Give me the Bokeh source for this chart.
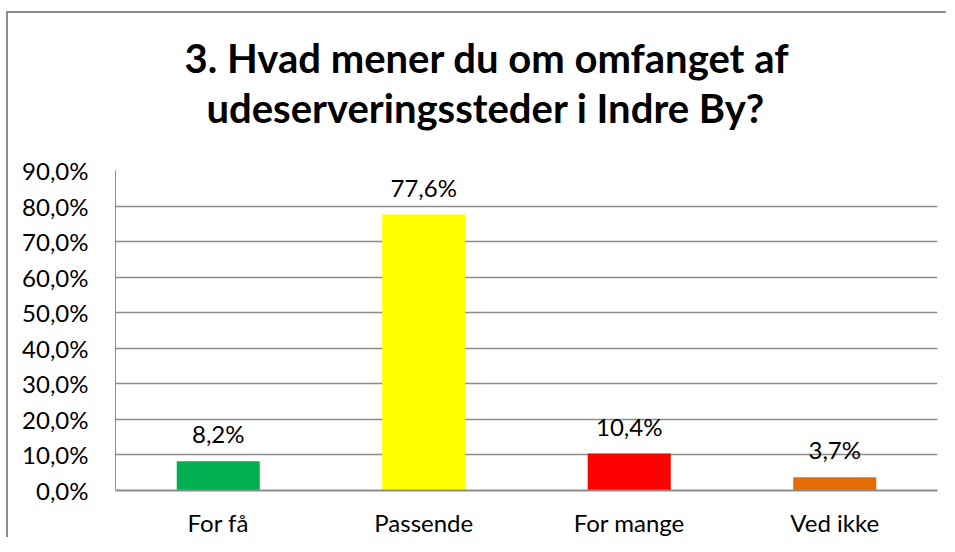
from bokeh.plotting import figure
from bokeh.models import ColumnDataSource, FactorRange, Range1d, FixedTicker, LabelSet, Title
from bokeh.core.properties import value
from bokeh.embed import file_html
from bokeh.resources import INLINE

title_lines = ["3. Hvad mener du om omfanget af", "udeserveringssteder i Indre By?"]
categories = ["For få", "Passende", "For mange", "Ved ikke"]
values = [8.2, 77.6, 10.4, 3.7]
value_labels = ["8,2%", "77,6%", "10,4%", "3,7%"]
colors = ["#00B050", "#FFFF00", "#FF0000", "#E36C09"]
y_ticks = [0, 10, 20, 30, 40, 50, 60, 70, 80, 90]
y_tick_labels = ["0,0%", "10,0%", "20,0%", "30,0%", "40,0%", "50,0%",
                 "60,0%", "70,0%", "80,0%", "90,0%"]

FONT = "Lato"
GRID = "#8c8c8c"

src = ColumnDataSource(dict(cat=categories, val=values, lab=value_labels, col=colors))

p = figure(width=940, height=526,
           x_range=FactorRange(*categories, range_padding=0),
           y_range=Range1d(0, 90),
           output_backend="svg", toolbar_location=None,
           min_border_left=107, min_border_right=11,
           min_border_top=157, min_border_bottom=48)
# chart border: only top and left edges fall inside the window
p.styles = {"margin-top": "13px", "margin-left": "8px",
            "box-shadow": "-2px -2px 0 0 #8c8c8c"}
p.outline_line_color = None
p.background_fill_color = "white"
p.border_fill_color = "white"

p.vbar(x="cat", top="val", width=0.404, fill_color="col", line_color=None, source=src)

p.add_layout(LabelSet(x="cat", y="val", text="lab", source=src,
                      text_align="center", text_baseline="alphabetic", y_offset=18,
                      text_font=value(FONT), text_font_size="24px", text_color="#000000"))

# y axis
p.yaxis.ticker = FixedTicker(ticks=y_ticks)
p.yaxis.major_label_overrides = {t: l for t, l in zip(y_ticks, y_tick_labels)}
p.yaxis.major_tick_line_color = None
p.yaxis.major_tick_out = 0
p.yaxis.major_tick_in = 0
p.yaxis.minor_tick_line_color = None
p.yaxis.minor_tick_out = 0
p.yaxis.axis_line_color = GRID
p.yaxis.axis_line_width = 1
p.yaxis.major_label_standoff = 27
p.yaxis.major_label_text_font = FONT
p.yaxis.major_label_text_font_size = "24px"
p.yaxis.major_label_text_color = "#000000"

# x axis
p.xaxis.major_tick_line_color = None
p.xaxis.major_tick_out = 0
p.xaxis.major_tick_in = 0
p.xaxis.axis_line_color = GRID
p.xaxis.axis_line_width = 2
p.xaxis.major_label_standoff = 17
p.xaxis.major_label_text_font = FONT
p.xaxis.major_label_text_font_size = "24px"
p.xaxis.major_label_text_color = "#000000"

p.xgrid.grid_line_color = None
p.ygrid.grid_line_color = GRID
p.ygrid.grid_line_width = 1.5

# spacer between title and plot area
p.add_layout(Title(text=" ", standoff=0, text_font=FONT, text_font_size="29px"), "above")
# title: two lines, second line added first (nearest the plot)
offsets = [69, 91]
for txt, off in reversed(list(zip(title_lines, offsets))):
    p.add_layout(Title(text=txt, align="left", offset=off, standoff=0,
                       vertical_align="top", text_baseline="alphabetic",
                       text_font=FONT, text_font_style="bold",
                       text_font_size="40px", text_color="#000000"), "above")

open("out.html", "w").write(file_html(p, INLINE))
